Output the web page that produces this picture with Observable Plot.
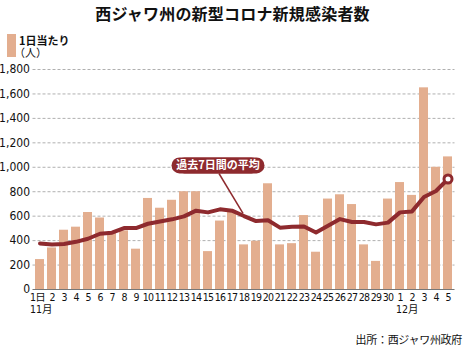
<!DOCTYPE html>
<html>
<head>
<meta charset="utf-8">
<script src="https://cdn.jsdelivr.net/npm/d3@7"></script>
<script src="https://cdn.jsdelivr.net/npm/@observablehq/plot@0.6"></script>
<style>
  body { margin: 0; background: #fff; }
  #wrap { position: relative; width: 465px; height: 347px; overflow: hidden; font-family: "Noto Sans CJK JP", "Noto Sans", sans-serif; color: #111; }
  #wrap svg { position: absolute; left: 0; top: 0; }
  .abs { position: absolute; white-space: nowrap; }
  #title { top: 3px; left: 0; width: 465px; text-align: center; font-size: 16px; font-weight: bold; line-height: 20px; letter-spacing: 0.2px; }
  #swatch { left: 7px; top: 34px; width: 9px; height: 22.5px; }
  #leg { left: 19px; top: 33.75px; font-size: 11px; line-height: 12.5px; }
  #leg b { font-weight: bold; }
  #leg span { margin-left: -5px; }
  #source { right: 3px; top: 332px; font-size: 11px; line-height: 14px; letter-spacing: -0.3px; }
</style>
</head>
<body>
<div id="wrap">
  <div class="abs" id="title"></div>
  <div class="abs" id="swatch"></div>
  <div class="abs" id="leg"><b id="leg1"></b><br><span id="leg2"></span></div>
  <div class="abs" id="source"></div>
</div>
<script>
// ---- data ----
const dates = ["11/1","11/2","11/3","11/4","11/5","11/6","11/7","11/8","11/9","11/10",
  "11/11","11/12","11/13","11/14","11/15","11/16","11/17","11/18","11/19","11/20",
  "11/21","11/22","11/23","11/24","11/25","11/26","11/27","11/28","11/29","11/30",
  "12/1","12/2","12/3","12/4","12/5"];
const dayLabels = ["1日","2","3","4","5","6","7","8","9","10",
  "11","12","13","14","15","16","17","18","19","20",
  "21","22","23","24","25","26","27","28","29","30",
  "1","2","3","4","5"];
const dailyCases = [245,340,485,510,630,585,470,480,330,745,
  665,730,800,800,310,560,630,365,395,865,
  365,375,605,305,740,775,695,365,230,740,
  875,770,1650,1000,1085];
const avg7 = [377,368,372,390,415,456,465,503,503,538,
  557,574,598,645,631,656,645,601,560,566,
  506,514,516,467,522,576,552,552,533,547,
  631,639,757,806,904];
const yTicks = [0,200,400,600,800,1000,1200,1400,1600,1800];
const monthLabels = [{date: "11/1", text: "11月"}, {date: "12/1", text: "12月"}];
const titleText = "西ジャワ州の新型コロナ新規感染者数";
const legendText = ["1日当たり", "（人）"];
const annotationText = "過去7日間の平均";
const sourceText = "出所：西ジャワ州政府";

// ---- styles ----
const barColor = "#e3ae8f";
const lineColor = "#8e2a2e";
const numFont = "'Liberation Sans Narrow', 'DejaVu Sans Condensed', 'Noto Sans CJK JP', sans-serif";

const rows = dates.map((d, i) => ({date: d, label: dayLabels[i], cases: dailyCases[i], avg: avg7[i]}));
const last = rows[rows.length - 1];

document.getElementById("title").textContent = titleText;
document.getElementById("swatch").style.background = barColor;
document.getElementById("leg1").textContent = legendText[0];
document.getElementById("leg2").textContent = legendText[1];
document.getElementById("source").textContent = sourceText;

const annY = 1015;
const chart = Plot.plot({
  width: 465,
  height: 347,
  marginTop: 69,
  marginBottom: 58,
  marginLeft: 32.5,
  marginRight: 10.5,
  style: {fontFamily: numFont, fontSize: "12px", color: "#111", background: "transparent"},
  x: {type: "band", domain: dates, padding: 0.25, paddingOuter: 0.1, axis: null},
  y: {domain: [0, 1800], axis: null},
  marks: [
    Plot.gridY(yTicks.filter(d => d > 0), {stroke: "#b0b0b0", strokeOpacity: 1, strokeDasharray: "3,2"}),
    Plot.barY(rows, {x: "date", y: "cases", fill: barColor}),
    Plot.ruleY([0], {stroke: "#777", strokeWidth: 1}),
    Plot.axisY(yTicks, {tickSize: 0, tickPadding: 3, tickFormat: d3.format(","), fontSize: 12, fill: "#111"}),
    Plot.text(rows.slice(1), {x: "date", text: "label", frameAnchor: "bottom", dy: 11.5, fontSize: 10.5, fill: "#111"}),
    Plot.text(rows.slice(0, 1), {x: "date", text: "label", frameAnchor: "bottom", dy: 11.5, dx: -2.5, fontSize: 10.5, fill: "#111"}),
    Plot.text(monthLabels.slice(0, 1), {x: "date", text: "text", frameAnchor: "bottom", dy: 23.5, dx: -10, textAnchor: "start", fontSize: 10.5, fill: "#111"}),
    Plot.text(monthLabels.slice(1), {x: "date", text: "text", frameAnchor: "bottom", dy: 23.5, dx: -4, textAnchor: "start", fontSize: 10.5, fill: "#111"}),
    Plot.lineY(rows, {x: "date", y: "avg", stroke: lineColor, strokeWidth: 4, strokeLinejoin: "round", strokeLinecap: "round"}),
    Plot.dot([last], {x: "date", y: "avg", r: 4, fill: "#fff", stroke: lineColor, strokeWidth: 3}),
    // annotation leader and label
    Plot.link([{x1: dates[15], x2: dates[17], y1: annY - 66, y2: 622}], {x1: "x1", x2: "x2", y1: "y1", y2: "y2", stroke: lineColor, strokeWidth: 1.5, dx: -1}),
    Plot.link([{x1: dates[12], x2: dates[18], y: annY}], {x1: "x1", x2: "x2", y1: "y", y2: "y", stroke: lineColor, strokeWidth: 16, strokeLinecap: "round", dx: -4.5}),
    Plot.link([{x1: dates[12], x2: dates[18], y: annY}], {x1: "x1", x2: "x2", y1: "y", y2: "y", stroke: lineColor, strokeWidth: 16, strokeLinecap: "round", dx: 0.5}),
    Plot.text([{x: dates[15], y: annY, t: annotationText}], {x: "x", y: "y", text: "t", fill: "#fff", fontWeight: "bold", fontSize: 11, dx: -2, fontFamily: "'Noto Sans CJK JP', sans-serif"})
  ]
});
// tighten the day labels (narrow figures as in the reference)
const textGroups = chart.querySelectorAll('g[aria-label="text"]');
for (let k = 0; k < 2; k++) textGroups[k].style.letterSpacing = "-0.8px";
document.getElementById("wrap").appendChild(chart);
</script>
</body>
</html>
